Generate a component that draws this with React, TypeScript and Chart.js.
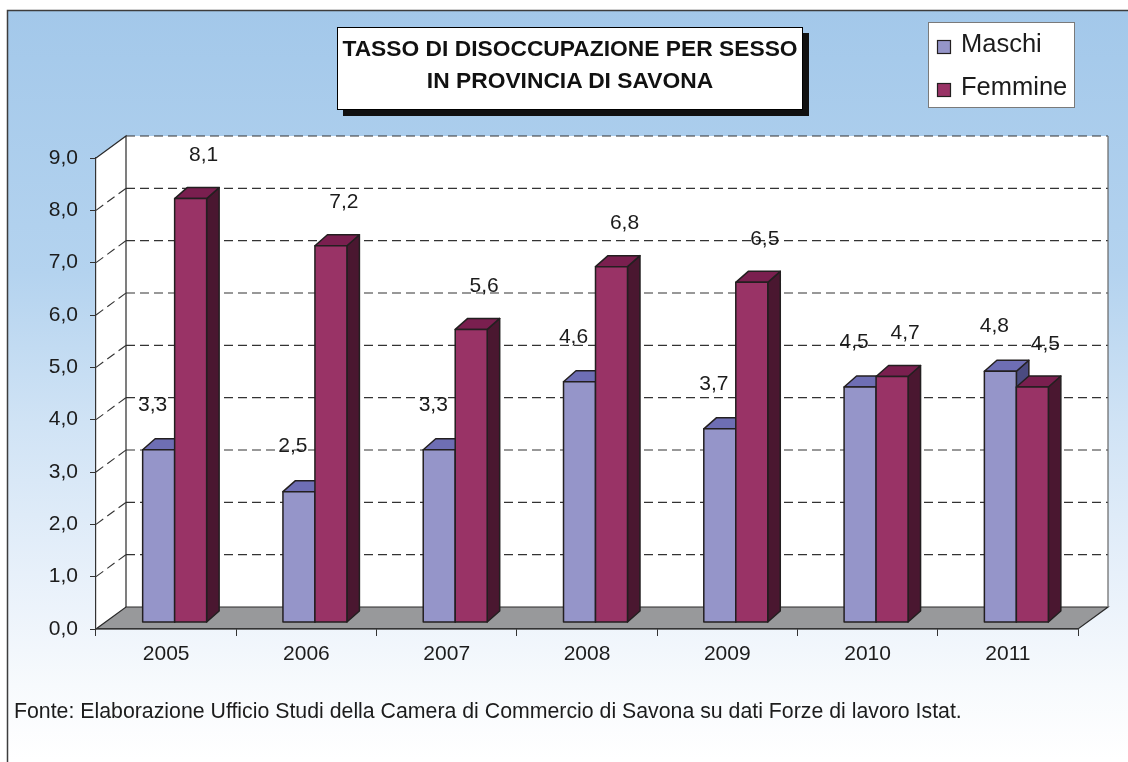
import React, { useEffect, useRef } from "react";
import { Chart, registerables } from "chart.js";

Chart.register(...registerables);

// ---------- data ----------
const categories = ["2005", "2006", "2007", "2008", "2009", "2010", "2011"];
const maschi = [3.3, 2.5, 3.3, 4.6, 3.7, 4.5, 4.8];
const femmine = [8.1, 7.2, 5.6, 6.8, 6.5, 4.7, 4.5];
const seriesNames = ["Maschi", "Femmine"];
const yMin = 0;
const yMax = 9;
const yStep = 1;
const titleLines = ["TASSO DI DISOCCUPAZIONE PER SESSO", "IN PROVINCIA DI SAVONA"];
const sourceNote =
  "Fonte: Elaborazione Ufficio Studi della Camera di Commercio di Savona su dati Forze di lavoro Istat.";

// ---------- styles ----------
const W = 1128;
const H = 762;
const FONT = "'Liberation Sans', Arial, Helvetica, sans-serif";
const TEXT = "#1c1c1c";
const WALL_DEPTH = { dx: 30, dy: -22 };
const BAR_SHIFT = { dx: 8.5, dy: -6.5 };
const BAR_DEPTH = { dx: 12.5, dy: -11 };
const LABEL_OFFSET = [
  { dx: 2.5, dy: -45 },
  { dx: 21.5, dy: -43 },
];
const palettes = [
  { front: "#9595c9", top: "#6e6eb4", side: "#4b4b80" },
  { front: "#993366", top: "#7a1f4f", side: "#4a1730" },
];
const OUTLINE = "#231f20";
const fmt = (v: number) => v.toFixed(1).replace(".", ",");

const scene3d = {
  id: "scene3d",
  beforeDraw(chart: any) {
    const { ctx, chartArea } = chart;
    const { left, right, top, bottom } = chartArea;
    const y = chart.scales.y;
    const { dx, dy } = WALL_DEPTH;
    ctx.save();
    // page + gradient background
    ctx.fillStyle = "#ffffff";
    ctx.fillRect(0, 0, W, H);
    const g = ctx.createLinearGradient(0, 11, 0, 760);
    g.addColorStop(0, "#a3c8ea");
    g.addColorStop(0.35, "#b4d3ef");
    g.addColorStop(0.55, "#d0e3f5");
    g.addColorStop(0.75, "#e7f0fa");
    g.addColorStop(0.9, "#f7fafd");
    g.addColorStop(1, "#ffffff");
    ctx.fillStyle = g;
    ctx.fillRect(8, 11, W, H);
    // frame
    ctx.strokeStyle = "#3d3d3d";
    ctx.lineWidth = 1.5;
    ctx.beginPath();
    ctx.moveTo(7.5, H);
    ctx.lineTo(7.5, 10.5);
    ctx.lineTo(W, 10.5);
    ctx.stroke();

    // back wall
    ctx.fillStyle = "#ffffff";
    ctx.fillRect(left + dx, top + dy, right - left, bottom - top);
    // side wall
    ctx.beginPath();
    ctx.moveTo(left, top);
    ctx.lineTo(left + dx, top + dy);
    ctx.lineTo(left + dx, bottom + dy);
    ctx.lineTo(left, bottom);
    ctx.closePath();
    ctx.fill();

    // floor
    ctx.beginPath();
    ctx.moveTo(left, bottom);
    ctx.lineTo(right, bottom);
    ctx.lineTo(right + dx, bottom + dy);
    ctx.lineTo(left + dx, bottom + dy);
    ctx.closePath();
    ctx.fillStyle = "#98999b";
    ctx.fill();
    ctx.strokeStyle = "#2a2a2a";
    ctx.lineWidth = 1.2;
    ctx.stroke();

    // gridlines
    ctx.strokeStyle = "#333333";
    ctx.lineWidth = 1.1;
    y.ticks.forEach((t: any) => {
      if (t.value <= yMin) return;
      const yy = y.getPixelForValue(t.value);
      ctx.setLineDash([9, 5]);
      ctx.beginPath();
      ctx.moveTo(left + dx, yy + dy);
      ctx.lineTo(right + dx, yy + dy);
      ctx.stroke();
      if (t.value < yMax) {
        ctx.beginPath();
        ctx.moveTo(left, yy);
        ctx.lineTo(left + dx, yy + dy);
        ctx.stroke();
      }
    });
    ctx.setLineDash([]);
    // wall edges
    ctx.strokeStyle = "#2a2a2a";
    ctx.lineWidth = 1.2;
    ctx.beginPath();
    ctx.moveTo(left, top);
    ctx.lineTo(left + dx, top + dy);
    ctx.lineTo(left + dx, bottom + dy);
    ctx.stroke();
    ctx.strokeStyle = "#666666";
    ctx.beginPath();
    ctx.moveTo(right + dx, top + dy);
    ctx.lineTo(right + dx, bottom + dy);
    ctx.stroke();
    ctx.restore();
  },
  afterDatasetsDraw(chart: any) {
    const { ctx } = chart;
    const n = chart.data.labels.length;
    ctx.save();
    ctx.lineWidth = 1.5;
    ctx.strokeStyle = OUTLINE;
    ctx.lineJoin = "round";
    const face = (pts: number[][], fill: string) => {
      ctx.beginPath();
      ctx.moveTo(pts[0][0], pts[0][1]);
      for (let k = 1; k < pts.length; k++) ctx.lineTo(pts[k][0], pts[k][1]);
      ctx.closePath();
      ctx.fillStyle = fill;
      ctx.fill();
      ctx.stroke();
    };
    for (let i = 0; i < n; i++) {
      chart.data.datasets.forEach((ds: any, d: number) => {
        const el = chart.getDatasetMeta(d).data[i];
        const p = el.getProps(["x", "y", "base", "width"], true);
        const pal = palettes[d];
        const l = p.x - p.width / 2 + BAR_SHIFT.dx;
        const r = p.x + p.width / 2 + BAR_SHIFT.dx;
        const t = p.y + BAR_SHIFT.dy;
        const b = p.base + BAR_SHIFT.dy;
        const { dx, dy } = BAR_DEPTH;
        face([[r, b], [r, t], [r + dx, t + dy], [r + dx, b + dy]], pal.side);
        face([[l, t], [r, t], [r + dx, t + dy], [l + dx, t + dy]], pal.top);
        face([[l, b], [l, t], [r, t], [r, b]], pal.front);
      });
    }
    // data labels
    ctx.fillStyle = TEXT;
    ctx.font = `21px ${FONT}`;
    ctx.textAlign = "center";
    ctx.textBaseline = "middle";
    chart.data.datasets.forEach((ds: any, d: number) => {
      chart.getDatasetMeta(d).data.forEach((el: any, i: number) => {
        const p = el.getProps(["x", "y"], true);
        ctx.fillText(
          fmt(ds.data[i]),
          p.x + LABEL_OFFSET[d].dx,
          p.y + BAR_SHIFT.dy + LABEL_OFFSET[d].dy
        );
      });
    });
    ctx.restore();
  },
  afterDraw(chart: any) {
    const { ctx } = chart;
    ctx.save();
    // legend box
    ctx.fillStyle = "#ffffff";
    ctx.fillRect(928.5, 22.5, 146, 85);
    ctx.strokeStyle = "#7a7a7a";
    ctx.lineWidth = 1;
    ctx.strokeRect(928.5, 22.5, 146, 85);
    ctx.font = `25.5px ${FONT}`;
    ctx.textAlign = "left";
    ctx.textBaseline = "alphabetic";
    chart.data.datasets.forEach((ds: any, d: number) => {
      const yy = 40 + d * 43;
      ctx.fillStyle = palettes[d].front;
      ctx.fillRect(937.5, yy + 0.5, 13, 13);
      ctx.strokeStyle = OUTLINE;
      ctx.lineWidth = 1.2;
      ctx.strokeRect(937.5, yy + 0.5, 13, 13);
      ctx.fillStyle = TEXT;
      ctx.fillText(ds.label, 961, yy + 12);
    });
    ctx.restore();
  },
};

export default function App() {
  const ref = useRef<HTMLCanvasElement | null>(null);
  useEffect(() => {
    if (!ref.current) return;
    const chart = new Chart(ref.current, {
      type: "bar",
      data: {
        labels: categories,
        datasets: [
          {
            label: seriesNames[0],
            data: maschi,
            backgroundColor: "rgba(0,0,0,0)",
            borderWidth: 0,
            categoryPercentage: 0.456,
            barPercentage: 1,
          },
          {
            label: seriesNames[1],
            data: femmine,
            backgroundColor: "rgba(0,0,0,0)",
            borderWidth: 0,
            categoryPercentage: 0.456,
            barPercentage: 1,
          },
        ],
      },
      options: {
        responsive: false,
        animation: false,
        devicePixelRatio: 1,
        events: [],
        layout: { padding: { top: 158, right: 50, left: 0, bottom: 0 } },
        plugins: {
          legend: { display: false },
          title: { display: false },
          tooltip: { enabled: false },
        },
        scales: {
          x: {
            grid: {
              display: true,
              drawOnChartArea: false,
              drawTicks: true,
              tickLength: 7,
              color: "#333333",
              offset: true,
            },
            border: { display: true, color: "#333333", width: 1.2 },
            ticks: { font: { family: FONT, size: 21 }, color: TEXT, padding: 6 },
            afterFit(s: any) {
              s.height = 133;
            },
          },
          y: {
            min: yMin,
            max: yMax,
            ticks: {
              stepSize: yStep,
              callback: (v: any) => fmt(Number(v)),
              font: { family: FONT, size: 21 },
              color: TEXT,
              padding: 12,
            },
            grid: {
              display: true,
              drawOnChartArea: false,
              drawTicks: true,
              tickLength: 6,
              color: "#333333",
            },
            border: { display: true, color: "#333333", width: 1.2 },
            afterFit(s: any) {
              s.width = 96;
            },
          },
        },
      },
      plugins: [scene3d],
    } as any);
    return () => chart.destroy();
  }, []);

  return (
    <div
      style={{
        position: "fixed",
        left: 0,
        top: 0,
        width: W,
        height: H,
        overflow: "hidden",
        fontFamily: FONT,
      }}
    >
      <canvas ref={ref} width={W} height={H} style={{ position: "absolute", left: 0, top: 0 }} />
      <div
        style={{
          position: "absolute",
          left: 337,
          top: 27,
          width: 464,
          height: 77,
          border: "1.5px solid #000",
          background: "#fff",
          boxShadow: "6px 6px 0 #111",
          textAlign: "center",
          fontWeight: "bold",
          fontSize: 22.8,
          lineHeight: "32px",
          paddingTop: 3.6,
          boxSizing: "content-box",
          color: "#111",
          whiteSpace: "nowrap",
        }}
      >
        {titleLines.map((t) => (
          <div key={t}>{t}</div>
        ))}
      </div>
      <div
        style={{
          position: "absolute",
          left: 14,
          top: 698.5,
          fontSize: 21.3,
          lineHeight: "24px",
          color: TEXT,
          whiteSpace: "nowrap",
        }}
      >
        {sourceNote}
      </div>
    </div>
  );
}
